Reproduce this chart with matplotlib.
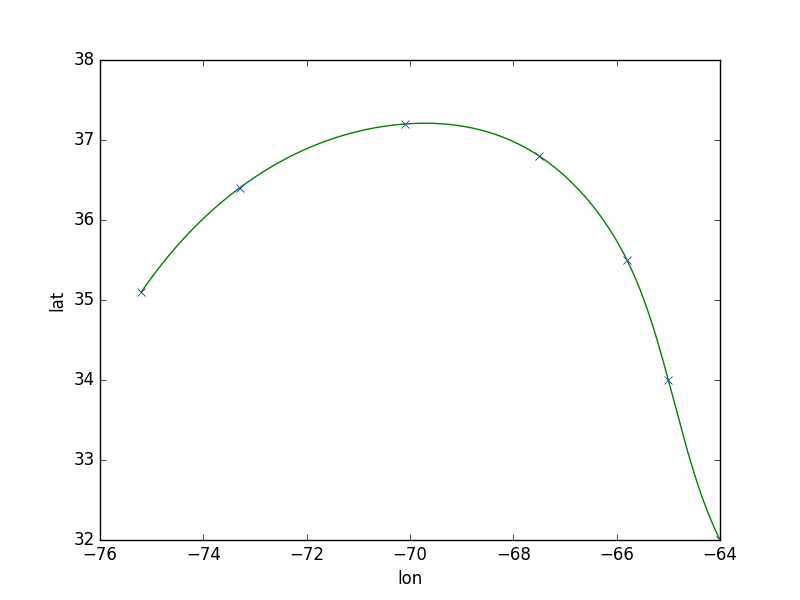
import numpy as np
import matplotlib
matplotlib.use('Agg')
import matplotlib.pyplot as plt

# track points
lon = [-75.2, -73.3, -70.1, -67.5, -65.8, -65.0, -64.0]
lat = [35.1, 36.4, 37.2, 36.8, 35.5, 34.0, 32.0]


def spline_coef(t, y):
    # second derivatives of a not-a-knot cubic spline through (t, y)
    t = np.asarray(t, float)
    y = np.asarray(y, float)
    n = len(t)
    h = np.diff(t)
    A = np.zeros((n, n))
    b = np.zeros(n)
    for i in range(1, n - 1):
        A[i, i - 1] = h[i - 1]
        A[i, i] = 2 * (h[i - 1] + h[i])
        A[i, i + 1] = h[i]
        b[i] = 6 * ((y[i + 1] - y[i]) / h[i] - (y[i] - y[i - 1]) / h[i - 1])
    A[0, 0], A[0, 1], A[0, 2] = h[1], -(h[0] + h[1]), h[0]
    A[-1, -3], A[-1, -2], A[-1, -1] = h[-1], -(h[-2] + h[-1]), h[-2]
    return np.linalg.solve(A, b)


def spline_eval(t, y, M, ts):
    t = np.asarray(t, float)
    y = np.asarray(y, float)
    idx = np.clip(np.searchsorted(t, ts) - 1, 0, len(t) - 2)
    t0, t1 = t[idx], t[idx + 1]
    hh = t1 - t0
    a = t1 - ts
    c = ts - t0
    return (M[idx] * a ** 3 / (6 * hh) + M[idx + 1] * c ** 3 / (6 * hh)
            + (y[idx] / hh - M[idx] * hh / 6) * a
            + (y[idx + 1] / hh - M[idx + 1] * hh / 6) * c)


# parametric spline, chord-length parameter (like splprep with s=0)
x = np.array(lon)
y = np.array(lat)
t = np.concatenate([[0], np.cumsum(np.hypot(np.diff(x), np.diff(y)))])
ts = np.linspace(t[0], t[-1], 400)
xs = spline_eval(t, x, spline_coef(t, x), ts)
ys = spline_eval(t, y, spline_coef(t, y), ts)

plt.style.use('classic')
fig = plt.figure(figsize=(8, 6), dpi=100)
ax = fig.add_subplot(111)

ax.plot(lon, lat, 'bx')
ax.plot(xs, ys, 'g-')

ax.set_xlim(-76, -64)
ax.set_ylim(32, 38)
ax.set_xlabel('lon')
ax.set_ylabel('lat')

fig.savefig('out.png', dpi=100)
